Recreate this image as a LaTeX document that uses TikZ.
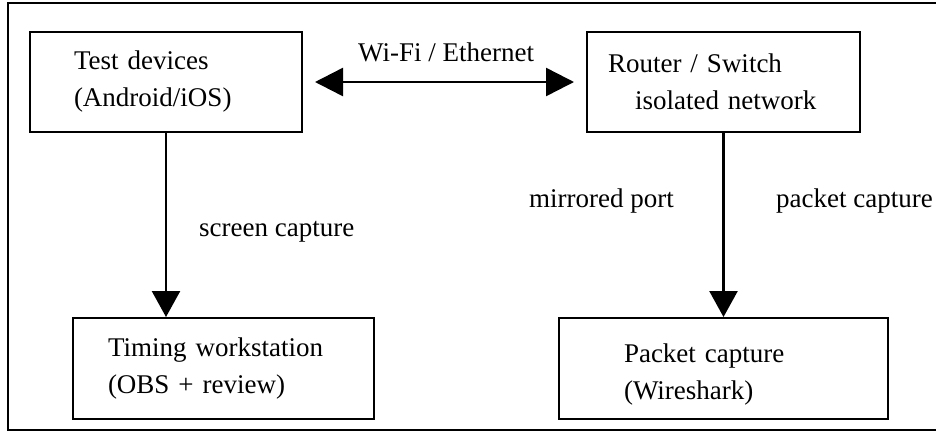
\documentclass[tikz,border=0pt]{standalone}
\usepackage{fontspec}
\setmainfont{Liberation Serif}
\usetikzlibrary{arrows.meta}

\begin{document}
\begin{tikzpicture}[x=1pt, y=-1pt,
        every node/.style={font=\fontsize{27}{37}\selectfont},
        box/.style={draw, line width=2pt, minimum height=100pt, align=left,
            anchor=north west, inner ysep=0pt},
        link/.style={line width=2.5pt, -{Triangle[length=26pt, width=28pt]}},
        lbl/.style={anchor=base west, inner sep=0pt}]
        \useasboundingbox (0,0) rectangle (936,432);
        \draw[line width=1.5pt] (8,3) rectangle (950,430);
        \node (devices) [box, inner xsep=44pt, text width=184pt] at (29,31)
            {Test devices\\(Android/iOS)};
        \node (router) [box, inner xsep=21pt, text width=231pt] at (586,31)
            {Router / Switch\\\hspace*{27pt}isolated network};
        \node (timing) [box, inner xsep=35pt, text width=231pt, minimum height=101pt] at (72,317)
            {Timing workstation\\(OBS + review)};
        \node (packet) [box, inner xsep=65pt, text width=199pt, minimum height=101pt] at (558,317)
            {\\[-6pt]Packet capture\\(Wireshark)};
        \draw[link, {Triangle[length=28pt, width=28pt]}-{Triangle[length=28pt, width=28pt]},
            shorten <=12pt, shorten >=12pt] (devices.east) -- (router.west);
        \draw[link] (devices.south) -- (devices.south |- timing.north);
        \draw[link] (router.south) -- (packet.north);
        \node (wifi) [lbl] at (358,61) {Wi-Fi / Ethernet};
        \node (screen) [lbl] at (199,236) {screen capture};
        \node (mirror) [lbl] at (529,207) {mirrored port};
        \node (capture) [lbl] at (776,207) {packet capture};
    \end{tikzpicture}
\end{document}
